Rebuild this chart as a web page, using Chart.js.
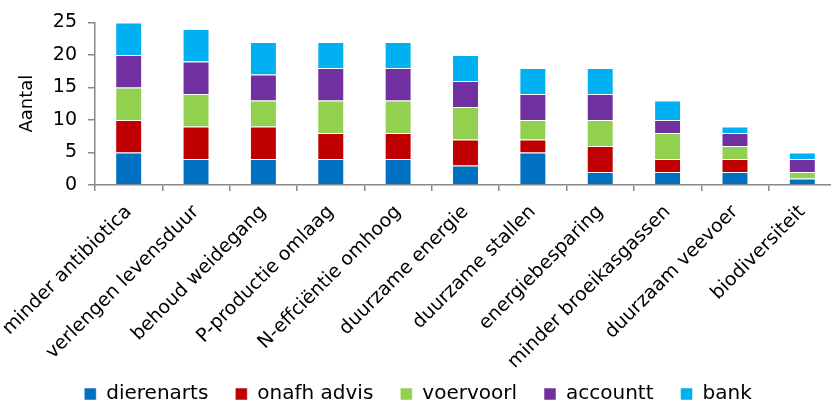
<!DOCTYPE html>
<html>
<head>
<meta charset="utf-8">
<script src="https://cdn.jsdelivr.net/npm/chart.js@4"></script>
<style>
  html, body { margin: 0; padding: 0; background: #fff; overflow: hidden; }
  #wrap { width: 836px; height: 414px; }
</style>
</head>
<body>
<div id="wrap"><canvas id="chart" width="836" height="414"></canvas></div>
<script>
const categories = ['minder antibiotica', 'verlengen levensduur', 'behoud weidegang', 'P-productie omlaag',
    'N-effciëntie omhoog', 'duurzame energie', 'duurzame stallen', 'energiebesparing',
    'minder broeikasgassen', 'duurzaam veevoer', 'biodiversiteit'];

const dierenarts = [5, 4, 4, 4, 4, 3, 5, 2, 2, 2, 1];
const onafhAdvis = [5, 5, 5, 4, 4, 4, 2, 4, 2, 2, 0];
const voervoorl  = [5, 5, 4, 5, 5, 5, 3, 4, 4, 2, 1];
const accountt   = [5, 5, 4, 5, 5, 4, 4, 4, 2, 2, 2];
const bank       = [5, 5, 5, 4, 4, 4, 4, 4, 3, 1, 1];

const yTicks = [0, 5, 10, 15, 20, 25];

const font = 'DejaVu Sans';
const axisColor = '#888888';

function series(label, data, color) {
    return {
        label: label,
        data: data,
        backgroundColor: color,
        borderColor: 'rgba(255,255,255,0.5)',
        borderWidth: 1,
        barPercentage: 0.8,
        categoryPercentage: 0.5
    };
}

// long rotated labels reach into the legend band, don't let the axis clip them
const unclipLabels = {
    id: 'unclipLabels',
    afterLayout(chart) {
        chart.scales.x.bottom += 30;
    }
};

const ctx = document.getElementById('chart').getContext('2d');
new Chart(ctx, {
    type: 'bar',
    data: {
        labels: categories,
        datasets: [
            series('dierenarts', dierenarts, '#0070C0'),
            series('onafh advis', onafhAdvis, '#C00000'),
            series('voervoorl', voervoorl, '#92D050'),
            series('accountt', accountt, '#7030A0'),
            series('bank', bank, '#00B0F0')
        ]
    },
    plugins: [unclipLabels],
    options: {
        responsive: false,
        animation: false,
        layout: {
            padding: {top: 20, left: 0, right: 0, bottom: 0}
        },
        scales: {
            x: {
                stacked: true,
                afterFit: (scale) => {
                    scale.height = 172;
                    scale.paddingLeft = 0;
                    scale.paddingRight = 0;
                },
                grid: {
                    offset: true,
                    drawOnChartArea: false,
                    color: axisColor,
                    tickLength: 6,
                    lineWidth: 1.5
                },
                border: {color: axisColor, width: 1.5},
                ticks: {
                    color: '#000',
                    font: {family: font, size: 19},
                    minRotation: 45,
                    maxRotation: 45,
                    autoSkip: false,
                    padding: 10
                }
            },
            y: {
                stacked: true,
                min: 0,
                max: 25,
                afterBuildTicks: (axis) => {
                    axis.ticks = yTicks.map((v) => ({value: v}));
                },
                afterFit: (scale) => { scale.width = 95; },
                grid: {
                    drawOnChartArea: false,
                    color: axisColor,
                    tickLength: 7,
                    lineWidth: 1.5
                },
                border: {color: axisColor, width: 1.5},
                ticks: {
                    color: '#000',
                    font: {family: font, size: 19},
                    padding: 11
                },
                title: {
                    display: true,
                    text: 'Aantal',
                    color: '#000',
                    font: {family: font, size: 18},
                    padding: {top: 17, bottom: 0}
                }
            }
        },
        plugins: {
            legend: {
                position: 'bottom',
                labels: {
                    color: '#000',
                    font: {family: font, size: 20},
                    boxWidth: 12,
                    boxHeight: 12,
                    padding: 27
                }
            },
            tooltip: {enabled: false}
        }
    }
});
</script>
</body>
</html>
